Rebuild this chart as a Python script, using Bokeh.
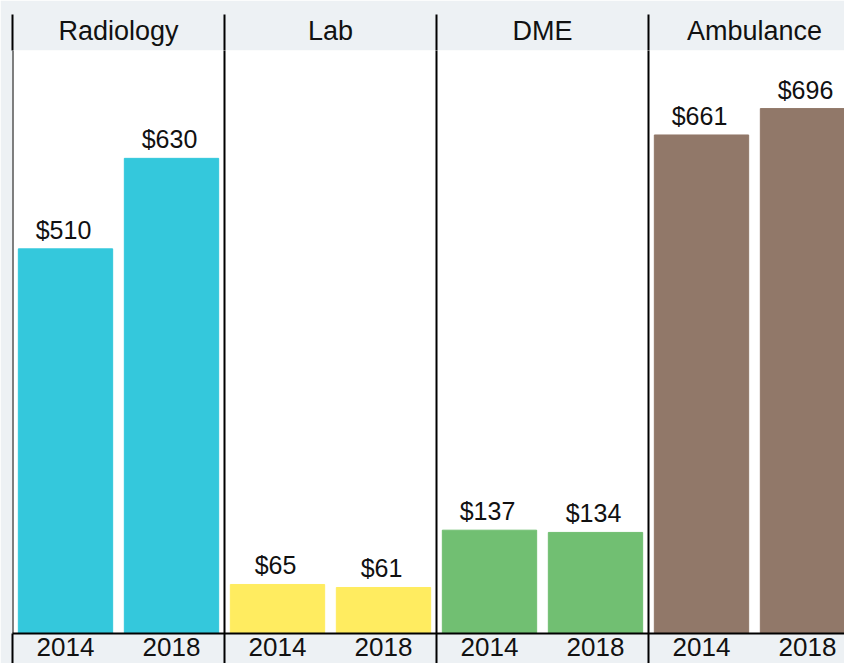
from bokeh.plotting import figure
from bokeh.models import Range1d, LinearAxis, FixedTicker, Span, ColumnDataSource
from bokeh.embed import file_html
from bokeh.resources import INLINE

categories = ["Radiology", "Lab", "DME", "Ambulance"]
years = ["2014", "2018"]
values_2014 = [510, 65, 137, 661]
values_2018 = [630, 61, 134, 696]
panel_colors = ["#34C8DC", "#FFEC60", "#71BF72", "#917869"]

BG = "#EDF1F4"
FONT = "Liberation Sans"

xs, tops, cols, labels = [], [], [], []
tick_pos, tick_lab = [], {}
for i, c in enumerate(categories):
    for j, (yr, vals) in enumerate(zip(years, [values_2014, values_2018])):
        x = i + 0.25 + 0.5 * j
        xs.append(x)
        tops.append(vals[i])
        cols.append(panel_colors[i])
        labels.append(f"${vals[i]}")
        tick_pos.append(x)
        tick_lab[x] = yr

src = ColumnDataSource(dict(x=xs, top=tops, color=cols, label=labels))

W, H = 844, 663
LEFT, TOP, BOTTOM = 12, 50, 30
p = figure(width=W, height=H, output_backend="svg", toolbar_location=None,
           x_range=Range1d(0, (W - LEFT) / 212), y_range=Range1d(0, 773),
           min_border_left=LEFT, min_border_right=0, min_border_top=TOP, min_border_bottom=BOTTOM,
           y_axis_location=None)
p.background_fill_color = "white"
p.border_fill_color = BG
p.outline_line_color = None
p.grid.visible = False

p.vbar(x="x", top="top", width=0.445, bottom=0, color="color", source=src)
p.text(x="x", y="top", text="label", source=src, text_align="center",
       text_baseline="bottom", x_offset=-2, y_offset=-5, text_font_size="25px",
       text_font={"value": FONT}, text_color="#111111")

boundaries = list(range(len(categories)))
for b in boundaries:
    p.add_layout(Span(location=b, dimension="height", line_color="black", line_width=2))

xa = p.xaxis[0]
xa.ticker = FixedTicker(ticks=tick_pos, minor_ticks=boundaries)
xa.major_label_overrides = tick_lab
xa.major_tick_line_color = None
xa.major_tick_out = 0
xa.major_tick_in = 0
xa.minor_tick_out = BOTTOM
xa.minor_tick_in = 0
xa.minor_tick_line_color = "black"
xa.minor_tick_line_width = 2
xa.axis_line_color = "black"
xa.axis_line_width = 2
xa.major_label_text_font_size = "26px"
xa.major_label_text_font = FONT
xa.major_label_text_color = "#111111"
xa.major_label_standoff = -BOTTOM + 4

top_axis = LinearAxis(ticker=FixedTicker(ticks=[i + 0.5 for i in range(len(categories))],
                                         minor_ticks=boundaries))
top_axis.major_label_overrides = {i + 0.5: c for i, c in enumerate(categories)}
top_axis.axis_line_color = None
top_axis.major_tick_line_color = None
top_axis.major_tick_out = 0
top_axis.major_tick_in = 0
top_axis.minor_tick_out = 36
top_axis.minor_tick_in = 0
top_axis.minor_tick_line_color = "black"
top_axis.minor_tick_line_width = 2
top_axis.major_label_text_font_size = "27px"
top_axis.major_label_text_font = FONT
top_axis.major_label_text_color = "#111111"
top_axis.major_label_standoff = -31
p.add_layout(top_axis, "above")

open("out.html", "w").write(file_html(p, INLINE))
